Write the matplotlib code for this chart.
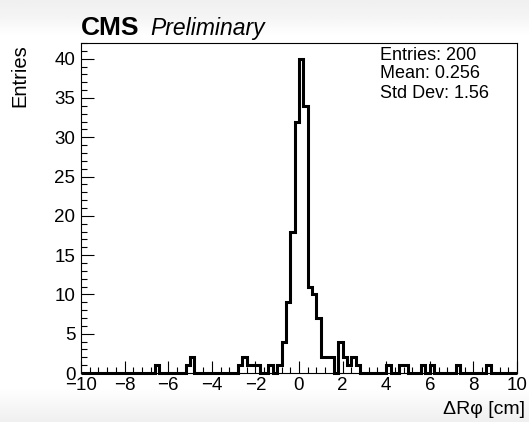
import matplotlib
matplotlib.use("Agg")
import matplotlib.pyplot as plt
from matplotlib.ticker import MultipleLocator
import numpy as np

plt.rcParams['font.family'] = ['Liberation Sans', 'DejaVu Sans']

# histogram: 100 bins from -10 to 10, only the filled bins are listed
x_min, x_max, n_bins = -10.0, 10.0, 100
bin_low = [-6.6, -5.2, -5.0, -2.8, -2.6, -2.4, -2.2, -2.0, -1.4, -1.0,
           -0.8, -0.6, -0.4, -0.2, 0.0, 0.2, 0.4, 0.6, 0.8,
           1.0, 1.2, 1.4, 1.8, 2.0, 2.2, 2.4, 2.6,
           4.0, 4.6, 4.8, 5.6, 6.0, 7.2, 8.6]
bin_count = [1, 1, 2, 1, 2, 1, 1, 1, 1, 1,
             4, 9, 18, 32, 40, 34, 11, 10, 7,
             2, 2, 2, 4, 2, 1, 2, 1,
             1, 1, 1, 1, 1, 1, 1]

stats_lines = ["Entries: 200", "Mean: 0.256", "Std Dev: 1.56"]

edges = np.linspace(x_min, x_max, n_bins + 1)
counts = np.zeros(n_bins)
for lo, c in zip(bin_low, bin_count):
    counts[int(round((lo - x_min) / 0.2))] = c

W, H = 529, 422
fig = plt.figure(figsize=(W / 100, H / 100), dpi=100)

# light grey vignette at top and bottom of the screenshot
bg = fig.add_axes([0, 0, 1, 1], zorder=-10)
yy = np.linspace(0, 1, 200)
shade = np.interp(yy, [0, 0.04, 0.08, 0.92, 0.96, 1.0], [0.94, 0.96, 1.0, 1.0, 0.97, 0.94])
bg.imshow(np.tile(shade[:, None], (1, 2)), cmap='gray', vmin=0, vmax=1,
          aspect='auto', extent=[0, 1, 0, 1], origin='upper')
bg.axis('off')

# frame in pixels: left 81, right 517, top 43, bottom 373
ax = fig.add_axes([81 / W, 1 - 373 / H, (517 - 81) / W, (373 - 43) / H])
ax.stairs(counts, edges, color='black', linewidth=2.2, baseline=0, clip_on=False, zorder=3)

ax.set_xlim(x_min, x_max)
ax.set_ylim(0, 42)
ax.xaxis.set_major_locator(MultipleLocator(2))
ax.xaxis.set_minor_locator(MultipleLocator(0.4))
ax.yaxis.set_major_locator(MultipleLocator(5))
ax.yaxis.set_minor_locator(MultipleLocator(1))
ax.tick_params(which='both', direction='in', top=False, right=False, labelsize=13.5, width=0.8)
ax.tick_params(which='major', length=9)
ax.tick_params(which='minor', length=4.5)
ax.tick_params(axis='x', pad=3)
ax.tick_params(axis='y', pad=4)
for s in ax.spines.values():
    s.set_linewidth(0.8)

fig.text(20 / W, 1 - 44 / H, "Entries", fontsize=14.5, rotation=90, ha='center', va='top')
fig.text(525 / W, 1 - 409 / H, "ΔRφ [cm]", fontsize=14, ha='right', va='center')

fig.text(81 / W, 1 - 35 / H, "CMS", fontsize=19, fontweight='bold', va='baseline')
fig.text(150 / W, 1 - 35 / H, "Preliminary", fontsize=16.5, style='italic', va='baseline')

for i, line in enumerate(stats_lines):
    fig.text(380 / W, 1 - (55 + 19 * i) / H, line, fontsize=13, va='center')

fig.savefig("out.png", dpi=100)
